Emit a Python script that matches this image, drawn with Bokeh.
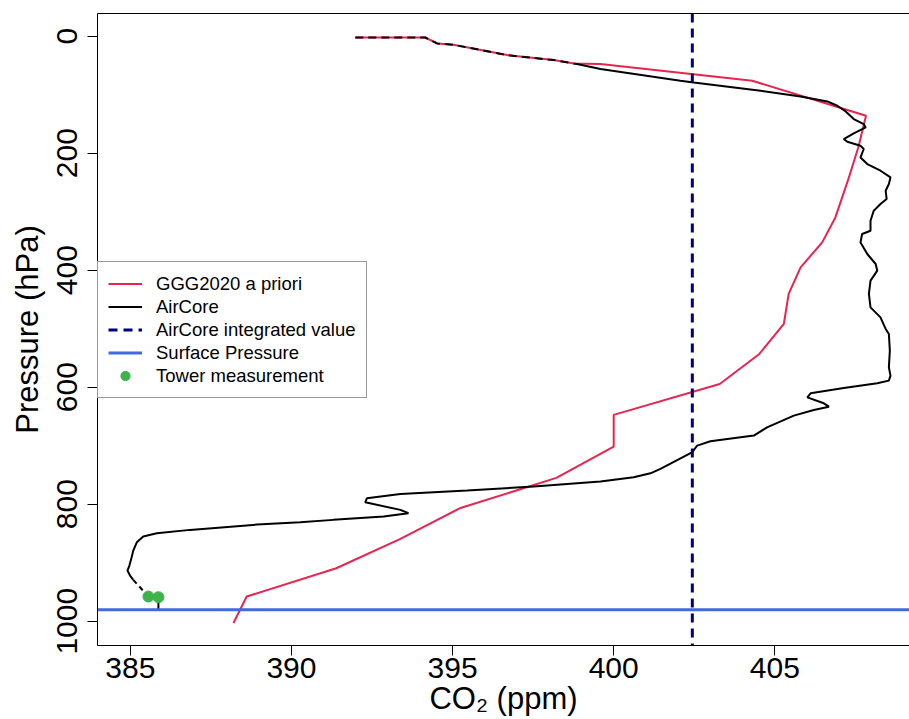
from bokeh.plotting import figure
from bokeh.models import Range1d, Legend, LegendItem, FixedTicker, LinearAxis
from bokeh.embed import file_html
from bokeh.resources import INLINE

# ---------------- data ----------------
# GGG2020 a priori CO2 profile (ppm) vs pressure (hPa)
prior_co2 = [391.98, 394.15, 394.52, 395.03, 396.69, 398.14, 398.76, 399.59, 404.30,
             407.83, 407.59, 407.30, 406.88, 406.47, 405.80, 405.43, 405.28, 404.52,
             403.29, 400.00, 400.00, 398.22, 395.22, 393.38, 391.39, 388.61, 388.20]
prior_p = [2.4, 2.4, 12.6, 14.9, 32.5, 41.0, 46.8, 47.8, 76.4,
           136.1, 190.3, 241.5, 309.9, 352.6, 395.3, 440.7, 492.0, 543.2,
           594.5, 647.4, 701.6, 755.0, 807.0, 859.2, 909.5, 957.8, 1003.1]

# AirCore upper part (overlapping the prior, drawn dashed)
aircore_top_co2 = [391.98, 394.15, 394.52, 395.03, 396.69, 398.14, 398.76]
aircore_top_p = [2.4, 2.4, 12.6, 14.9, 32.5, 41.0, 46.8]

# AirCore measured profile
aircore_co2 = [398.76, 398.86, 399.59, 402.07, 402.48, 404.56, 405.80, 406.63, 406.94,
               407.20, 407.45, 407.76, 407.82, 407.45, 407.14, 407.25, 407.66, 407.76,
               407.66, 407.87, 408.28, 408.59, 408.54, 408.44, 408.47, 408.28, 408.07,
               407.97, 407.97, 407.71, 407.66, 407.87, 408.13, 408.18, 407.97, 407.92,
               407.97, 408.28, 408.44, 408.54, 408.57, 408.54, 408.59, 408.54, 408.18,
               407.14, 406.11, 406.01, 406.52, 406.68, 406.21, 405.59, 404.76, 404.35,
               403.00, 402.59, 402.43, 401.45, 401.14, 400.62, 399.59, 397.52, 395.45,
               393.38, 392.34, 392.29, 393.38, 393.63, 392.86, 391.30, 390.27, 388.93,
               386.85, 385.82, 385.40, 385.20, 385.09, 385.04, 384.97, 384.91, 384.99,
               385.09]
aircore_p = [46.8, 47.8, 56.4, 76.4, 79.3, 93.4, 103.2, 111.7, 119.1,
             128.8, 141.8, 150.3, 156.1, 166.4, 176.0, 180.6, 187.4, 193.0,
             207.4, 218.7, 230.1, 241.5, 252.8, 264.3, 278.4, 287.0, 298.4,
             315.5, 332.6, 338.2, 352.6, 372.4, 389.5, 400.9, 418.0, 440.7,
             463.6, 480.7, 500.5, 509.1, 537.6, 566.1, 580.3, 588.8, 593.4,
             601.3, 610.5, 617.4, 627.6, 633.3, 638.9, 648.6, 668.6, 682.8,
             692.5, 699.9, 711.3, 739.7, 747.2, 754.0, 761.4, 769.9, 776.7,
             782.4, 789.9, 796.7, 809.7, 815.5, 821.1, 826.8, 830.9, 834.8,
             843.9, 849.7, 855.3, 865.1, 879.2, 890.7, 904.9, 913.4, 922.0,
             929.3]

# link from AirCore bottom to tower measurements (dashed)
link_co2 = [385.09, 385.56, 385.87]
link_p = [929.3, 957.8, 959.0]

# tower measurements
tower_co2 = [385.56, 385.87]
tower_p = [957.8, 959.0]

# stem from tower measurement to surface
stem_co2 = [385.87, 385.87]
stem_p = [959.0, 980.5]

aircore_integrated = 402.44
surface_pressure = 980.5

x_ticks = [385, 390, 395, 400, 405]
y_ticks = [0, 200, 400, 600, 800, 1000]

X_MIN, X_MAX = 383.98, 409.18
P_TOP, P_BOTTOM = -38.6, 1041.5

RED = "#E8244F"
BLUE = "#4169E1"
NAVY = "#000080"
GREEN = "#3CB44B"
FONT = "Liberation Sans"

# ---------------- figure ----------------
p = figure(width=909, height=719,
           x_range=Range1d(X_MIN, X_MAX), y_range=Range1d(P_BOTTOM, P_TOP),
           output_backend="svg", toolbar_location=None,
           min_border_left=97, min_border_right=0, min_border_top=13, min_border_bottom=74)
p.xgrid.visible = False
p.ygrid.visible = False
p.outline_line_color = None
p.background_fill_color = "white"
p.border_fill_color = "white"

for ax in (p.xaxis[0], p.yaxis[0]):
    ax.major_tick_out = 10
    ax.major_tick_in = 0
    ax.minor_tick_out = 0
    ax.minor_tick_in = 0
    ax.axis_line_color = "black"
    ax.major_tick_line_color = "black"
    ax.major_label_text_font = FONT
    ax.major_label_text_font_size = "30px"
    ax.major_label_text_color = "black"
    ax.axis_label_text_font = FONT
    ax.axis_label_text_font_size = "31px"
    ax.axis_label_text_font_style = "normal"
    ax.axis_label_text_color = "black"
    ax.major_label_text_line_height = 0.9
    ax.axis_label_text_line_height = 0.9

p.xaxis.ticker = FixedTicker(ticks=x_ticks)
p.yaxis.ticker = FixedTicker(ticks=y_ticks)
p.xaxis.major_label_standoff = 2
p.xaxis.axis_label = "CO\u2082 (ppm)"
p.xaxis.axis_label_standoff = 0
p.yaxis.major_label_standoff = 10
p.yaxis.major_label_orientation = "vertical"
p.yaxis.axis_label = "Pressure (hPa)"
p.yaxis.axis_label_standoff = 10

# top frame line (box edge without a right side, as in the reference crop)
top_axis = LinearAxis(ticker=FixedTicker(ticks=[]), axis_line_color="black",
                      major_tick_out=0, major_tick_in=0, minor_tick_out=0, minor_tick_in=0,
                      major_label_text_font_size="0px")
p.add_layout(top_axis, "above")

# ---------------- glyphs ----------------
r_prior = p.line(prior_co2, prior_p, line_color=RED, line_width=2)
r_air = p.line(aircore_co2, aircore_p, line_color="black", line_width=2)
p.line(aircore_top_co2, aircore_top_p, line_color="black", line_width=2, line_dash="8 5")
p.line(link_co2, link_p, line_color="black", line_width=2, line_dash="5 4")
p.line(stem_co2, stem_p, line_color="black", line_width=2)
r_int = p.line([aircore_integrated, aircore_integrated], [P_TOP, P_BOTTOM],
               line_color=NAVY, line_width=3, line_dash="9 6")
r_surf = p.line([X_MIN, X_MAX], [surface_pressure, surface_pressure],
                line_color=BLUE, line_width=3)
r_tower = p.scatter(tower_co2, tower_p, size=11, fill_color=GREEN, line_color=GREEN)

legend = Legend(items=[
    LegendItem(label="GGG2020 a priori", renderers=[r_prior]),
    LegendItem(label="AirCore", renderers=[r_air]),
    LegendItem(label="AirCore integrated value", renderers=[r_int]),
    LegendItem(label="Surface Pressure", renderers=[r_surf]),
    LegendItem(label="Tower measurement", renderers=[r_tower]),
], location=(0, 247))
legend.label_text_font = FONT
legend.label_text_font_size = "18.5px"
legend.label_text_color = "black"
legend.glyph_width = 34
legend.glyph_height = 23
legend.label_height = 23
legend.label_standoff = 14
legend.spacing = 0
legend.padding = 10
legend.margin = 0
legend.border_line_color = "#333333"
legend.border_line_width = 1
legend.background_fill_color = "white"
legend.background_fill_alpha = 1.0
p.add_layout(legend)

open("out.html", "w").write(file_html(p, INLINE))
